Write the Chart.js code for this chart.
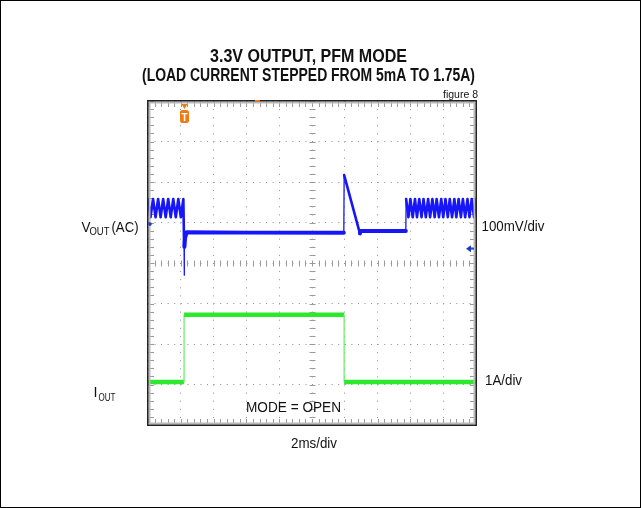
<!DOCTYPE html>
<html><head><meta charset="utf-8">
<script src="https://cdn.jsdelivr.net/npm/chart.js@4.4.1/dist/chart.umd.min.js"></script>
<style>html,body{margin:0;padding:0;background:#fff;}#wrap{width:641px;height:508px;position:relative;}</style>
</head><body><div id="wrap"><canvas id="c" width="641" height="508"></canvas></div>
<script>
// ---- text ----
const titleLines = ['3.3V OUTPUT, PFM MODE', '(LOAD CURRENT STEPPED FROM 5mA TO 1.75A)'];
const figureLabel = 'figure 8';
const voutLabel = ['V', 'OUT', '(AC)'];
const ioutLabel = ['I', 'OUT'];
const voutScaleLabel = '100mV/div';
const ioutScaleLabel = '1A/div';
const timeScaleLabel = '2ms/div';
const modeLabel = 'MODE = OPEN';

// ---- screen grid (divisions) ----
const xDivisions = 10;
const yDivisions = 8;

// ---- channel markers (division units) ----
const triggerX = 1.10;
const voutGroundY = 4.35;
const voutPositionY = 4.96;

// ---- VOUT (AC) trace, x in time divisions, y in screen divisions ----
const voutX = [0, 0.077, 0.154, 0.231, 0.308, 0.385, 0.462, 0.539, 0.616, 0.693, 0.770, 0.847, 0.924, 1.001, 1.078,
  1.10, 1.105, 1.11, 1.13, 1.18, 3.00, 5.97,
  5.98, 6.46, 6.48, 7.86,
  7.87, 7.94, 8.00, 8.07, 8.14, 8.20, 8.27, 8.34, 8.40, 8.47, 8.54, 8.60, 8.67, 8.74, 8.80, 8.87, 8.94,
  9.00, 9.07, 9.14, 9.20, 9.27, 9.34, 9.40, 9.47, 9.54, 9.60, 9.67, 9.74, 9.80, 9.87, 9.94, 10.00];
const voutY = [5.58, 5.13, 5.58, 5.13, 5.58, 5.13, 5.58, 5.13, 5.58, 5.13, 5.58, 5.13, 5.58, 5.13, 5.58,
  4.42, 3.70, 4.40, 4.62, 4.76, 4.75, 4.75,
  6.17, 4.73, 4.79, 4.79,
  5.58, 5.13, 5.58, 5.13, 5.58, 5.13, 5.58, 5.13, 5.58, 5.13, 5.58, 5.13, 5.58, 5.13, 5.58, 5.13, 5.58,
  5.13, 5.58, 5.13, 5.58, 5.13, 5.58, 5.13, 5.58, 5.13, 5.58, 5.13, 5.58, 5.13, 5.58, 5.13, 5.58];

// ---- IOUT trace ----
const ioutX = [0, 1.10, 1.10, 5.98, 5.98, 10.00];
const ioutY = [1.06, 1.06, 2.72, 2.72, 1.06, 1.06];

const FONT = '"Liberation Sans", Arial, Helvetica, sans-serif';

function pts(xs, ys) { return xs.map((x, i) => ({ x: x, y: ys[i] })); }

const decor = {
  id: 'scopeDecor',
  beforeDatasetsDraw(chart) {
    const { ctx, chartArea: a, scales: { x, y } } = chart;
    ctx.save();
    ctx.strokeStyle = '#9a9a9a';
    ctx.lineWidth = 1;
    ctx.beginPath();
    const cy = Math.round(y.getPixelForValue(yDivisions / 2)) + 0.5;
    const cx = Math.round(x.getPixelForValue(xDivisions / 2)) + 0.5;
    for (let k = 0; k <= xDivisions * 5; k++) {
      const px = Math.round(x.getPixelForValue(k / 5)) + 0.5;
      ctx.moveTo(px, cy - 3); ctx.lineTo(px, cy + 3);
      ctx.moveTo(px, a.top + 2); ctx.lineTo(px, a.top + 6);
      ctx.moveTo(px, a.bottom - 6); ctx.lineTo(px, a.bottom - 2);
    }
    for (let k = 0; k <= yDivisions * 5; k++) {
      const py = Math.round(y.getPixelForValue(k / 5)) + 0.5;
      ctx.moveTo(cx - 3, py); ctx.lineTo(cx + 3, py);
      ctx.moveTo(a.left + 2, py); ctx.lineTo(a.left + 6, py);
      ctx.moveTo(a.right - 6, py); ctx.lineTo(a.right - 2, py);
    }
    ctx.stroke();
    ctx.restore();
  },
  afterDraw(chart) {
    const { ctx, chartArea: a, scales: { x, y } } = chart;
    ctx.save();
    // outer image border
    ctx.strokeStyle = '#000';
    ctx.lineWidth = 1;
    ctx.strokeRect(0.5, 0.5, chart.width - 1, chart.height - 1);
    // scope frame
    ctx.strokeStyle = '#b8b8b8';
    ctx.lineWidth = 2;
    ctx.strokeRect(a.left + 1.5, a.top + 1.5, a.right - a.left - 3, a.bottom - a.top - 3);
    ctx.strokeStyle = '#222';
    ctx.lineWidth = 1.5;
    ctx.strokeRect(a.left - 0.25, a.top - 0.25, a.right - a.left + 0.5, a.bottom - a.top + 0.5);

    // trigger marker
    const tx = Math.round(x.getPixelForValue(triggerX)) + 0.5;
    ctx.fillStyle = '#f07a12';
    ctx.beginPath();
    ctx.moveTo(tx - 3, a.top + 3); ctx.lineTo(tx + 3, a.top + 3); ctx.lineTo(tx, a.top + 8); ctx.closePath();
    ctx.fill();
    ctx.beginPath();
    if (ctx.roundRect) ctx.roundRect(tx - 4.5, a.top + 9, 9, 13, 2.5); else ctx.rect(tx - 4.5, a.top + 9, 9, 13);
    ctx.fill();
    ctx.fillStyle = '#fff';
    ctx.font = 'bold 10px ' + FONT;
    ctx.textAlign = 'center';
    ctx.textBaseline = 'alphabetic';
    ctx.fillText('T', tx, a.top + 19.5);
    ctx.fillStyle = '#f07a12';
    ctx.fillRect(x.getPixelForValue(3.32) - 2, a.top - 1, 5, 2);

    // VOUT ground arrow and position marker
    const gy = y.getPixelForValue(voutGroundY);
    ctx.fillStyle = '#1a3cc8';
    ctx.strokeStyle = '#1a3cc8';
    ctx.beginPath();
    ctx.moveTo(a.right - 10, gy); ctx.lineTo(a.right - 5, gy - 3.5); ctx.lineTo(a.right - 5, gy + 3.5); ctx.closePath();
    ctx.fill();
    ctx.lineWidth = 1.5;
    ctx.beginPath(); ctx.moveTo(a.right - 6, gy); ctx.lineTo(a.right - 2, gy); ctx.stroke();
    const py = y.getPixelForValue(voutPositionY);
    ctx.beginPath(); ctx.arc(a.left + 2, py, 1.8, 0, Math.PI * 2); ctx.fill();

    // texts
    ctx.fillStyle = '#111';
    ctx.textAlign = 'center';
    ctx.font = 'bold 18px ' + FONT;
    ctx.fillText(titleLines[0], 308.5, 62, 197);
    ctx.fillText(titleLines[1], 308.5, 80.5, 333);
    ctx.textAlign = 'right';
    ctx.font = '10.5px ' + FONT;
    ctx.fillText(figureLabel, 478, 98, 36);

    ctx.textAlign = 'left';
    ctx.font = '15px ' + FONT;
    ctx.fillText(voutLabel[0], 81.5, 231.5, 9);
    ctx.fillText(voutLabel[2], 111.5, 231.5, 27);
    ctx.font = '11px ' + FONT;
    ctx.fillText(voutLabel[1], 89.5, 234.5, 20);
    ctx.font = '15px ' + FONT;
    ctx.fillText(ioutLabel[0], 93.5, 397, 4);
    ctx.font = '11px ' + FONT;
    ctx.fillText(ioutLabel[1], 98.5, 400.5, 17);

    ctx.font = '15px ' + FONT;
    ctx.fillText(voutScaleLabel, 481.5, 230.5, 63);
    ctx.fillText(ioutScaleLabel, 485, 385, 37);
    ctx.fillText(modeLabel, 246, 411.5, 95);
    ctx.textAlign = 'center';
    ctx.fillText(timeScaleLabel, 314, 448, 46);
    ctx.restore();
  }
};

function segWidth(c, thin, steep, flat) {
  const dx = Math.abs(c.p1.parsed.x - c.p0.parsed.x);
  const dy = Math.abs(c.p1.parsed.y - c.p0.parsed.y);
  if (dx < 0.015) return thin;
  if (dy > 0.3) return steep;
  return flat;
}

new Chart(document.getElementById('c'), {
  type: 'scatter',
  data: {
    datasets: [
      {
        label: 'VOUT (AC)',
        data: pts(voutX, voutY),
        showLine: true,
        pointRadius: 0,
        borderColor: '#1616f8',
        borderWidth: 3,
        borderJoinStyle: 'round',
        borderCapStyle: 'round',
        tension: 0,
        segment: {
          borderWidth: c => segWidth(c, 1.3, 2.6, 4)
        }
      },
      {
        label: 'IOUT',
        data: pts(ioutX, ioutY),
        showLine: true,
        pointRadius: 0,
        borderColor: '#2ee82e',
        borderWidth: 4.5,
        tension: 0,
        segment: {
          borderWidth: c => segWidth(c, 1.3, 4.5, 4.5),
          borderColor: c => Math.abs(c.p1.parsed.x - c.p0.parsed.x) < 0.015 ? '#6cf06c' : '#2ee82e'
        }
      }
    ]
  },
  options: {
    responsive: false,
    animation: false,
    devicePixelRatio: 1,
    layout: { padding: { left: 148, top: 101, right: 165, bottom: 83 } },
    plugins: { legend: { display: false }, tooltip: { enabled: false }, title: { display: false } },
    scales: {
      x: {
        type: 'linear', min: 0, max: xDivisions,
        ticks: { display: false, stepSize: 1 },
        grid: { color: '#8f8f8f', lineWidth: 1, drawTicks: false },
        border: { display: false, dash: [1, 7.1] }
      },
      y: {
        type: 'linear', min: 0, max: yDivisions,
        ticks: { display: false, stepSize: 1 },
        grid: { color: '#8f8f8f', lineWidth: 1, drawTicks: false },
        border: { display: false, dash: [1, 5.56] }
      }
    }
  },
  plugins: [decor]
});
</script>
</body></html>
